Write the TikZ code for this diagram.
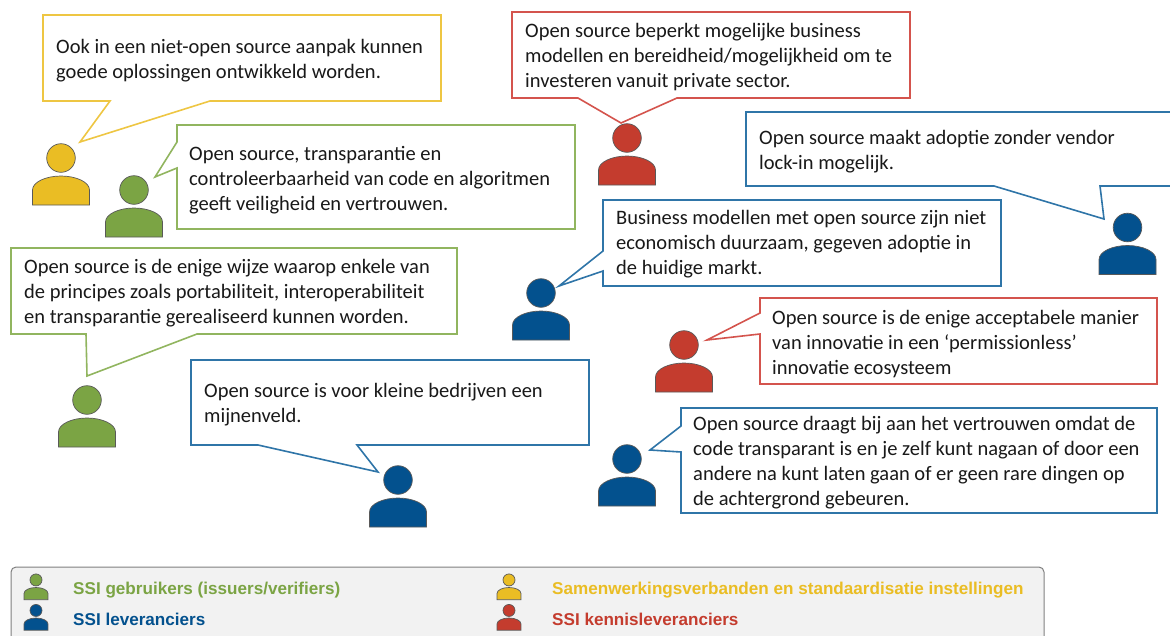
\documentclass[tikz,border=0pt]{standalone}
\usepackage{fontspec}
\setmainfont{Carlito}
\newfontfamily\legendfont{Liberation Sans}

\definecolor{geel}{HTML}{EABD24}
\definecolor{groen}{HTML}{7BA444}
\definecolor{blauw}{HTML}{03518E}
\definecolor{rood}{HTML}{C43C2E}
\definecolor{geelrand}{HTML}{EEC643}
\definecolor{groenrand}{HTML}{91B55F}
\definecolor{blauwrand}{HTML}{2F75A8}
\definecolor{roodrand}{HTML}{D4544D}

\tikzset{
    bubble/.style={line width=1.6pt,fill=white,line join=miter},
    says/.style={font=\fontsize{20.5}{25}\selectfont,align=left,anchor=north west,inner sep=0pt,text=black!90},
    legendtext/.style={font=\legendfont\bfseries\fontsize{17.1}{17}\selectfont,anchor=base west,inner sep=0pt},
    person/.pic={
        \draw[draw=black!65,fill=#1,line width=.7pt] (0,-18) circle (14.3);
        \draw[draw=black!65,fill=#1,line width=.7pt] (-28.5,29) -- (-28.5,14) .. controls (-28.5,6) and (-15,0) .. (0,0) .. controls (15,0) and (28.5,6) .. (28.5,14) -- (28.5,29) -- cycle;
    },
}

\begin{document}
\begin{tikzpicture}[x=1pt,y=-1pt]
\useasboundingbox (0,0) rectangle (1170,635);

\draw[bubble,draw=geelrand] (43,15) -- (441,15) -- (441,101) -- (210,101) -- (80,142) -- (110,101) -- (43,101) -- cycle;
\draw[bubble,draw=groenrand] (177,125) -- (575,125) -- (575,229) -- (177,229) -- (177,168) -- (155,177) -- (177,142) -- cycle;
\draw[bubble,draw=groenrand] (11,248) -- (457,248) -- (457,334) -- (197,334) -- (87,376) -- (86,334) -- (11,334) -- cycle;
\draw[bubble,draw=roodrand] (512,12) -- (910,12) -- (910,98) -- (677,98) -- (621,123) -- (578,98) -- (512,98) -- cycle;
\draw[bubble,draw=blauwrand] (746,112) -- (1172,112) -- (1172,186) -- (1100,186) -- (1104,219) -- (994,186) -- (746,186) -- cycle;
\draw[bubble,draw=blauwrand] (603,200) -- (1001,200) -- (1001,286) -- (603,286) -- (603,271) -- (559,286) -- (603,251) -- cycle;
\draw[bubble,draw=roodrand] (760,298) -- (1157,298) -- (1157,384) -- (760,384) -- (760,334) -- (707,340) -- (760,313) -- cycle;
\draw[bubble,draw=blauwrand] (191,360) -- (589,360) -- (589,445) -- (357,445) -- (378,472) -- (258,445) -- (191,445) -- cycle;
\draw[bubble,draw=blauwrand] (681,408) -- (1157,408) -- (1157,513) -- (681,513) -- (681,452) -- (650,450) -- (681,426) -- cycle;

\node[says] (ook) at (56,39) {Ook in een niet-open source aanpak kunnen\\goede oplossingen ontwikkeld worden.};
\node[says] (controle) at (189,146) {Open source, transparantie en\\controleerbaarheid van code en algoritmen\\geeft veiligheid en vertrouwen.};
\node[says] (enige) at (24,259) {Open source is de enige wijze waarop enkele van\\de principes zoals portabiliteit, interoperabiliteit\\en transparantie gerealiseerd kunnen worden.};
\node[says] (beperkt) at (525,23) {Open source beperkt mogelijke business\\modellen en bereidheid/mogelijkheid om te\\investeren vanuit private sector.};
\node[says] (vendor) at (759,130.5) {Open source maakt adoptie zonder vendor\\lock-in mogelijk.};
\node[says] (business) at (616,210.5) {Business modellen met open source zijn niet\\economisch duurzaam, gegeven adoptie in\\de huidige markt.};
\node[says] (manier) at (772,310) {Open source is de enige acceptabele manier\\van innovatie in een ‘permissionless’\\innovatie ecosysteem};
\node[says] (mijn) at (204,383.5) {Open source is voor kleine bedrijven een\\mijnenveld.};
\node[says] (code) at (693,416.5) {Open source draagt bij aan het vertrouwen omdat de\\code transparant is en je zelf kunt nagaan of door een\\andere na kunt laten gaan of er geen rare dingen op\\de achtergrond gebeuren.};

\foreach \x/\y/\kleur in {61/176/geel,134/208/groen,87/418/groen,627/156/rood,1127.5/245.5/blauw,541/311/blauw,684/363/rood,398/498/blauw,627/477/blauw}
\pic at (\x,\y) {person=\kleur};

\draw[draw=black!50,fill=black!5,line width=1pt,rounded corners=5pt] (11,567) rectangle (1044,650);

\foreach \x/\y/\kleur in {36/587.5/groen,36/618/blauw,509/587.5/geel,509/618/rood}
\pic[scale=.42] at (\x,\y) {person=\kleur};

\node[legendtext,text=groen] (gebruikers) at (73,594) {SSI gebruikers (issuers/verifiers)};
\node[legendtext,text=blauw] (leveranciers) at (73,625) {SSI leveranciers};
\node[legendtext,text=geel] (samenwerking) at (552,594) {Samenwerkingsverbanden en standaardisatie instellingen};
\node[legendtext,text=rood] (kennis) at (552,625) {SSI kennisleveranciers};
\end{tikzpicture}
\end{document}
